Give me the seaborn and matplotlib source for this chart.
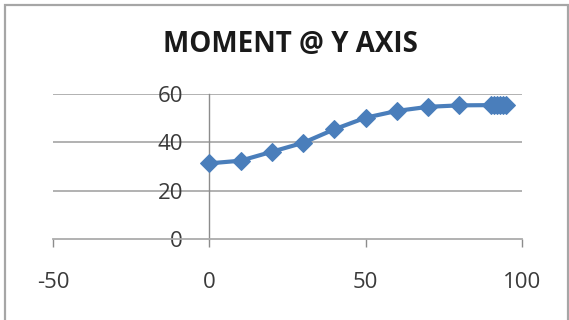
import matplotlib
matplotlib.use("Agg")
import matplotlib.pyplot as plt
import matplotlib.patches as mpatches
import seaborn as sns
import pandas as pd

# Moment about the Y axis against position
position = [0, 10, 20, 30, 40, 50, 60, 70, 80, 90, 91, 92, 93, 94, 95]
moment = [31.3, 32.4, 36.1, 39.8, 45.4, 50.2, 53.0, 54.7, 55.3, 55.4, 55.4, 55.4, 55.4, 55.4, 55.4]
x_ticks = [-50, 0, 50, 100]
y_ticks = [0, 20, 40, 60]
title = "MOMENT @ Y AXIS"

df = pd.DataFrame({"position": position, "moment": moment})

sns.set_style("white")
plt.rcParams["font.family"] = ["Open Sans", "DejaVu Sans"]
plt.rcParams["axes.unicode_minus"] = False

fig = plt.figure(figsize=(5.69, 3.2), dpi=100)
ax = fig.add_axes([53 / 569, 1 - 239 / 320, (522 - 53) / 569, (239 - 94) / 320])

grid_c = "#ABABAB"
axis_c = "#8C8C8C"
blue = "#4A7EBB"

for yv in y_ticks[1:]:
    ax.axhline(yv, color=grid_c, lw=1.3, zorder=0)

sns.lineplot(data=df, x="position", y="moment", ax=ax, color=blue, lw=3.0,
             marker="D", markersize=9, markeredgecolor=blue, markerfacecolor=blue,
             zorder=3)

ax.set_xlim(x_ticks[0], x_ticks[-1])
ax.set_ylim(y_ticks[0], y_ticks[-1])
ax.set_xticks(x_ticks)
ax.set_yticks(y_ticks)
ax.set_xlabel("")
ax.set_ylabel("")

for s in ("top", "right"):
    ax.spines[s].set_visible(False)
ax.spines["left"].set_position(("data", 0))
ax.spines["left"].set_color(axis_c)
ax.spines["left"].set_linewidth(1.0)
ax.spines["bottom"].set_color(grid_c)
ax.spines["bottom"].set_linewidth(1.3)

ax.tick_params(axis="x", direction="out", length=6, width=1.0, color=axis_c,
               pad=18, labelsize=16, labelcolor="#3A3A3A", bottom=True)
ax.tick_params(axis="y", length=0, pad=19, labelsize=16, labelcolor="#3A3A3A", left=True)

ax.set_title(title, fontsize=20, fontweight="bold", color="#1A1A1A",
             x=(290 - 53) / (522 - 53), y=1 + (94 - 45) / 145, va="center", pad=0)

# chart frame
frame = mpatches.Rectangle((4.5 / 569, -0.05), (567.5 - 4.5) / 569, 1.05 - 5 / 320,
                           transform=fig.transFigure, fill=False,
                           edgecolor="#A6A6A6", lw=1.6, clip_on=False)
fig.patches.append(frame)

fig.savefig("out.png", dpi=100, facecolor="white")
